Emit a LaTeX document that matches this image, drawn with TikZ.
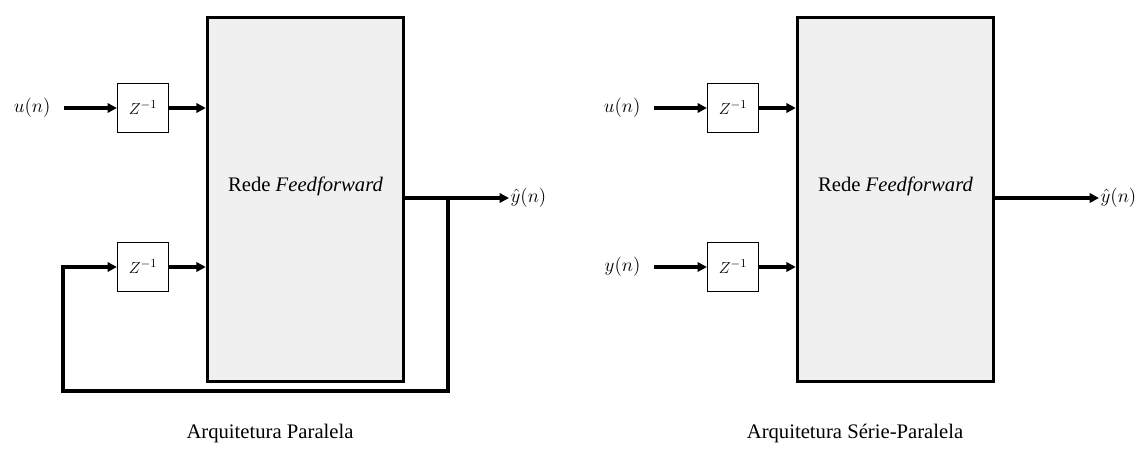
\documentclass[tikz,border=0pt,11pt]{standalone}
\usepackage{fontspec}
\setmainfont{Liberation Serif}
\usepackage{tikz}
\usetikzlibrary{positioning,arrows.meta}

\begin{document}
\begin{tikzpicture}[x=0.75pt, y=-0.75pt,
  net/.style={draw, line width=2.6pt, fill=gray!12, minimum width=147pt, minimum height=273pt, inner sep=0pt},
  label/.style={font=\fontsize{15.5pt}{18pt}\selectfont},
  delay/.style={draw, line width=1.1pt, minimum width=38pt, minimum height=37pt, inner sep=0pt, font=\fontsize{13pt}{15pt}\selectfont},
  sig/.style={inner xsep=10pt, inner ysep=2pt, font=\fontsize{14.5pt}{17pt}\selectfont},
  arr/.style={-{Triangle[length=7pt, width=7pt]}, line width=2.6pt}]
  \useasboundingbox (0,0) rectangle (1147,457);
  % arquitetura paralela
  \node[net] (net1) at (305.5,199.5) {};
  \node[label] (txt1) at (305.5,186) {Rede \textit{Feedforward}};
  \node[delay] (dl1) at (143,108) {$Z^{-1}$};
  \node[delay] (dl2) at (143,267) {$Z^{-1}$};
  \node[sig, anchor=east] (u1) at (64,108) {$u(n)$};
  \node[sig, anchor=west, inner xsep=1pt] (yhat1) at (509,198) {$\hat{y}(n)$};
  \coordinate (tap1) at (448,198);
  \coordinate (bot1) at (63,391);
  \draw[arr] (u1) -- (dl1);
  \draw[arr] (dl1.east) -- (dl1.east -| net1.west);
  \draw[arr] (dl2.east) -- (dl2.east -| net1.west);
  \draw[arr] (net1.east |- yhat1) -- (yhat1.west);
  \draw[arr, line join=miter] (tap1) |- (bot1) |- (dl2.west);
  \node[label] (cap1) at (270,434) {Arquitetura Paralela};
  % arquitetura serie-paralela
  \node[net] (net2) at (895.5,199.5) {};
  \node[label] (txt2) at (895.5,186) {Rede \textit{Feedforward}};
  \node[delay] (dl3) at (733,108) {$Z^{-1}$};
  \node[delay] (dl4) at (733,267) {$Z^{-1}$};
  \node[sig, anchor=east] (u2) at (654,108) {$u(n)$};
  \node[sig, anchor=east] (y2) at (654,267) {$y(n)$};
  \node[sig, anchor=west, inner xsep=1pt] (yhat2) at (1099,198) {$\hat{y}(n)$};
  \draw[arr] (u2) -- (dl3);
  \draw[arr] (y2) -- (dl4);
  \draw[arr] (dl3.east) -- (dl3.east -| net2.west);
  \draw[arr] (dl4.east) -- (dl4.east -| net2.west);
  \draw[arr] (net2.east |- yhat2) -- (yhat2.west);
  \node[label] (cap2) at (855,434) {Arquitetura Série-Paralela};
\end{tikzpicture}
\end{document}
